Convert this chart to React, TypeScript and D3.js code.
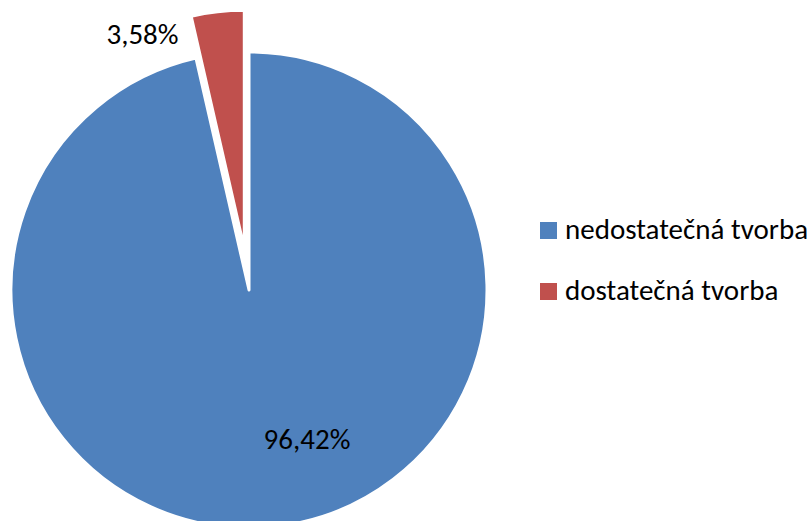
import React from "react";
import * as d3 from "d3";

const categories = ["nedostatečná tvorba", "dostatečná tvorba"];
const values = [96.42, 3.58];
const labels = ["96,42%", "3,58%"];
const colors = ["#4F81BD", "#C0504D"];

export default function App() {
  const W = 811, H = 521;
  const cx = 249, cy = 290, R = 238;
  const total = d3.sum(values);
  const angle = d3.scaleLinear().domain([0, total]).range([0, 2 * Math.PI]);
  const arc = d3.arc<any>().innerRadius(0).outerRadius(R);
  const slices = values.map((v, i) => {
    const start = angle(d3.sum(values.slice(0, i)));
    const end = angle(d3.sum(values.slice(0, i + 1)));
    return { v, i, start, end };
  });
  const explode = [0, 42];
  const labelPos = [
    { x: 307, y: 449 },
    { x: 142.5, y: 44 },
  ];
  return (
    <svg width={W} height={H} style={{ position: "absolute", left: 0, top: 0 }}
      fontFamily="Carlito, Lato, 'Open Sans', sans-serif">
      <rect width={W} height={H} fill="#fff" />
      <g transform={`translate(${cx},${cy})`}>
        {slices.map((s) => {
          const mid = (s.start + s.end) / 2;
          const dx = Math.sin(mid) * explode[s.i];
          const dy = -Math.cos(mid) * explode[s.i];
          return (
            <path key={s.i}
              d={arc({ startAngle: s.start, endAngle: s.end }) as string}
              transform={`translate(${dx},${dy})`}
              fill={colors[s.i]} stroke="#fff" strokeWidth={3} strokeLinejoin="round" />
          );
        })}
      </g>
      {slices.map((s) => (
        <text key={s.i} x={labelPos[s.i].x} y={labelPos[s.i].y} textAnchor="middle"
          fontSize={29} fill="#000">{labels[s.i]}</text>
      ))}
      {categories.map((c, i) => (
        <g key={c} transform={`translate(540,${222 + i * 61})`}>
          <rect width={17} height={17} fill={colors[i]} />
          <text x={25} y={17} fontSize={29} fill="#000">{c}</text>
        </g>
      ))}
    </svg>
  );
}
